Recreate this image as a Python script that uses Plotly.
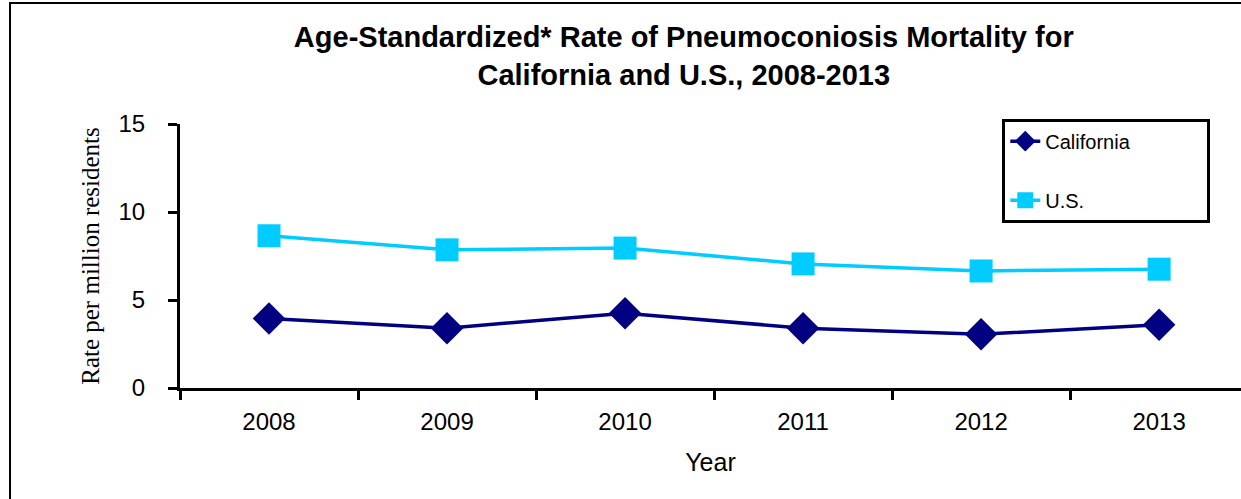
import plotly.graph_objects as go

# chart data
years = ["2008", "2009", "2010", "2011", "2012", "2013"]
california = [3.95, 3.4, 4.25, 3.4, 3.05, 3.6]
us = [8.65, 7.85, 7.95, 7.05, 6.65, 6.75]

title_text = "Age-Standardized* Rate of Pneumoconiosis Mortality for<br>California and U.S., 2008-2013"
pad = "\u00a0" * 13  # widens the legend box a bit

fig = go.Figure()

fig.add_trace(go.Scatter(
    x=years, y=california, name="California" + pad, mode="lines+markers",
    line=dict(color="#000080", width=3.5),
    marker=dict(symbol="diamond", size=25, color="#000080"),
    legendgroup="ca",
))

fig.add_trace(go.Scatter(
    x=years, y=us, name="U.S.", mode="lines+markers",
    line=dict(color="#00CCFF", width=3.5),
    marker=dict(symbol="square", size=23, color="#00CCFF"),
    legendgroup="us",
))

# outer frame of the chart area
fig.add_shape(type="rect", xref="paper", yref="paper",
              x0=-0.1602, x1=1.02, y0=-0.6, y1=1.458,
              line=dict(color="black", width=2), layer="below")

fig.update_layout(
    width=1241, height=499,
    margin=dict(l=180, r=0, t=124, b=111),
    paper_bgcolor="white", plot_bgcolor="white",
    font=dict(family="Liberation Sans, Arial, sans-serif", color="black", size=24),
    title=dict(text=title_text, x=0.551, xanchor="center", y=0.905, yanchor="top",
               font=dict(size=29, family="Liberation Sans, Arial, sans-serif", weight="bold")),
    showlegend=True,
    legend=dict(x=0.775, y=1.02, xanchor="left", yanchor="top",
                bordercolor="black", borderwidth=3, bgcolor="white",
                font=dict(size=20), tracegroupgap=30, traceorder="grouped"),
)

fig.update_xaxes(
    type="category", range=[-0.5, 5.46], tickson="boundaries",
    showline=True, linecolor="black", linewidth=3,
    ticks="outside", ticklen=9, tickwidth=3, tickcolor="black",
    showgrid=False, tickfont=dict(size=24), ticklabelstandoff=10,
    title=dict(text="Year", font=dict(size=25), standoff=20),
)

fig.update_yaxes(
    range=[0, 15], tickvals=[0, 5, 10, 15],
    showline=True, linecolor="black", linewidth=3,
    ticks="outside", ticklen=9, tickwidth=3, tickcolor="black",
    showgrid=False, zeroline=False, tickfont=dict(size=24), ticklabelstandoff=18,
    title=dict(text="Rate per million residents", standoff=12,
               font=dict(family="Liberation Serif, Times New Roman, serif", size=25)),
)

# drop the page's default body margin so the figure fills the window
fig.write_html("out.html", config={"displayModeBar": False},
               post_script="document.body.style.margin = '0';")
